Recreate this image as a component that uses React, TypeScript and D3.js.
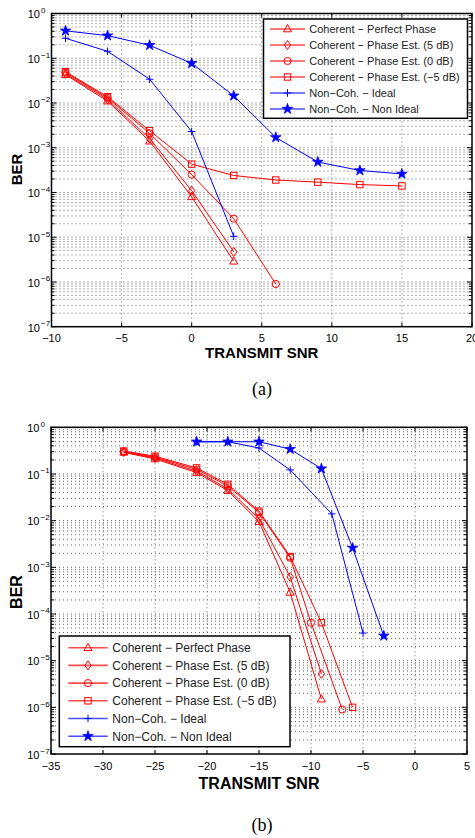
import React from 'react';
import * as d3 from 'd3';

const W = 475;
const H = 838;

// ---------- Data: panel (a) ----------
const topXTicks = [-10, -5, 0, 5, 10, 15, 20];
const topPerfectX = [-9, -6, -3, 0, 3];
const topPerfectY = [0.043, 0.011, 0.0014, 8e-5, 2.9e-6];
const topEst5X = [-9, -6, -3, 0, 3];
const topEst5Y = [0.045, 0.012, 0.0016, 1.1e-4, 4.7e-6];
const topEst0X = [-9, -6, -3, 0, 3, 6];
const topEst0Y = [0.048, 0.013, 0.0021, 2.5e-4, 2.6e-5, 9e-7];
const topEstM5X = [-9, -6, -3, 0, 3, 6, 9, 12, 15];
const topEstM5Y = [0.05, 0.0138, 0.0024, 4.3e-4, 2.4e-4, 1.9e-4, 1.7e-4, 1.5e-4, 1.4e-4];
const topNcIdealX = [-9, -6, -3, 0, 3];
const topNcIdealY = [0.28, 0.143, 0.034, 0.0023, 1.05e-5];
const topNcNonIdealX = [-9, -6, -3, 0, 3, 6, 9, 12, 15];
const topNcNonIdealY = [0.41, 0.32, 0.195, 0.077, 0.0145, 0.0017, 4.8e-4, 3.1e-4, 2.6e-4];

// ---------- Data: panel (b) ----------
const botXTicks = [-35, -30, -25, -20, -15, -10, -5, 0, 5];
const botPerfectX = [-28, -25, -21, -18, -15, -12, -9];
const botPerfectY = [0.29, 0.21, 0.107, 0.044, 0.0095, 2.9e-4, 1.5e-6];
const botEst5X = [-28, -25, -21, -18, -15, -12, -9];
const botEst5Y = [0.295, 0.22, 0.115, 0.048, 0.011, 6.2e-4, 5.2e-6];
const botEst0X = [-28, -25, -21, -18, -15, -12, -10, -7];
const botEst0Y = [0.3, 0.23, 0.125, 0.055, 0.015, 0.0016, 6.5e-5, 9e-7];
const botEstM5X = [-28, -25, -21, -18, -15, -12, -9, -6];
const botEstM5Y = [0.31, 0.24, 0.135, 0.06, 0.016, 0.0017, 6.5e-5, 1e-6];
const botNcIdealX = [-21, -18, -15, -12, -8, -5];
const botNcIdealY = [0.49, 0.49, 0.36, 0.122, 0.014, 3.9e-5];
const botNcNonIdealX = [-21, -18, -15, -12, -9, -6, -3];
const botNcNonIdealY = [0.49, 0.49, 0.49, 0.34, 0.13, 0.0026, 3.4e-5];

const legendLabels = [
  'Coherent − Perfect Phase',
  'Coherent − Phase Est. (5 dB)',
  'Coherent − Phase Est. (0 dB)',
  'Coherent − Phase Est. (−5 dB)',
  'Non−Coh. − Ideal',
  'Non−Coh. − Non Ideal',
];
const seriesMarkers = ['triangle', 'diamond', 'circle', 'square', 'plus', 'star'];
const seriesColors = ['#ff0000', '#ff0000', '#ff0000', '#ff0000', '#0000ff', '#0000ff'];
const yExponents = [0, -1, -2, -3, -4, -5, -6, -7];

const SANS = '"Liberation Sans", Arial, Helvetica, sans-serif';
const SERIF = '"Liberation Serif", "Times New Roman", serif';

function Marker({ kind, cx, cy, color }: { kind: string; cx: number; cy: number; color: string }) {
  const sw = 1;
  switch (kind) {
    case 'triangle':
      return <path d={`M${cx},${cy - 4.5}L${cx + 4},${cy + 2.8}L${cx - 4},${cy + 2.8}Z`} fill="none" stroke={color} strokeWidth={sw} />;
    case 'diamond':
      return <path d={`M${cx},${cy - 4.5}L${cx + 3.2},${cy}L${cx},${cy + 4.5}L${cx - 3.2},${cy}Z`} fill="none" stroke={color} strokeWidth={sw} />;
    case 'circle':
      return <circle cx={cx} cy={cy} r={3.6} fill="none" stroke={color} strokeWidth={sw} />;
    case 'square':
      return <rect x={cx - 3.2} y={cy - 3.2} width={6.4} height={6.4} fill="none" stroke={color} strokeWidth={sw} />;
    case 'plus':
      return <path d={`M${cx - 3.8},${cy}H${cx + 3.8}M${cx},${cy - 3.8}V${cx === cx ? cy + 3.8 : 0}`} fill="none" stroke={color} strokeWidth={sw} />;
    case 'star': {
      const p = d3.symbol(d3.symbolStar, 34)() as string;
      return <path d={p} transform={`translate(${cx},${cy})`} fill={color} stroke={color} strokeWidth={0.8} />;
    }
    default:
      return null;
  }
}

type PanelCfg = {
  xDomain: [number, number];
  xRange: [number, number];
  yRange: [number, number]; // [bottom, top]
  xTicks: number[];
  series: { x: number[]; y: number[] }[];
  legend: { x0: number; y0: number; x1: number; y1: number; rowY0: number; rowStep: number; lineX0: number; lineX1: number; textX: number; fontSize: number };
  xLabelY: number;
  xTickLabelY: number;
  axisLabelY: number;
  berX: number;
  berY: number;
  labelFont: number;
  caption: string;
  captionY: number;
};

function Panel({ cfg }: { cfg: PanelCfg }) {
  const x = d3.scaleLinear().domain(cfg.xDomain).range(cfg.xRange);
  const y = d3.scaleLog().domain([1e-7, 1]).range(cfg.yRange);
  const [xl, xr] = cfg.xRange;
  const [yb, yt] = cfg.yRange;
  const line = d3.line<[number, number]>().x(d => x(d[0])).y(d => y(d[1]));

  const minorVals: number[] = [];
  for (let k = -7; k < 0; k++) for (let m = 2; m <= 9; m++) minorVals.push(m * Math.pow(10, k));

  const gridColor = '#555';
  const lg = cfg.legend;

  return (
    <g>
      {/* grid */}
      {minorVals.map((v, i) => (
        <line key={'mg' + i} x1={xl} x2={xr} y1={y(v)} y2={y(v)} stroke={gridColor} strokeWidth={0.9} strokeDasharray="1,3" />
      ))}
      {yExponents.slice(1, -1).map(e => (
        <line key={'Mg' + e} x1={xl} x2={xr} y1={y(Math.pow(10, e))} y2={y(Math.pow(10, e))} stroke={gridColor} strokeWidth={0.9} strokeDasharray="1,3" />
      ))}
      {cfg.xTicks.slice(1, -1).map(t => (
        <line key={'vg' + t} x1={x(t)} x2={x(t)} y1={yt} y2={yb} stroke={gridColor} strokeWidth={0.9} strokeDasharray="1,3" />
      ))}

      {/* ticks */}
      {minorVals.map((v, i) => (
        <g key={'mt' + i}>
          <line x1={xl} x2={xl + 3} y1={y(v)} y2={y(v)} stroke="#000" strokeWidth={1} />
          <line x1={xr} x2={xr - 3} y1={y(v)} y2={y(v)} stroke="#000" strokeWidth={1} />
        </g>
      ))}
      {yExponents.map(e => (
        <g key={'Mt' + e}>
          <line x1={xl} x2={xl + 5} y1={y(Math.pow(10, e))} y2={y(Math.pow(10, e))} stroke="#000" strokeWidth={1} />
          <line x1={xr} x2={xr - 5} y1={y(Math.pow(10, e))} y2={y(Math.pow(10, e))} stroke="#000" strokeWidth={1} />
        </g>
      ))}
      {cfg.xTicks.map(t => (
        <g key={'xt' + t}>
          <line x1={x(t)} x2={x(t)} y1={yb} y2={yb - 4} stroke="#000" strokeWidth={1} />
          <line x1={x(t)} x2={x(t)} y1={yt} y2={yt + 4} stroke="#000" strokeWidth={1} />
        </g>
      ))}

      {/* series */}
      {cfg.series.map((s, i) => {
        const pts = s.x.map((xv, j) => [xv, s.y[j]] as [number, number]);
        return (
          <g key={'s' + i}>
            <path d={line(pts) as string} fill="none" stroke={seriesColors[i]} strokeWidth={1} />
            {pts.map((p, j) => (
              <Marker key={j} kind={seriesMarkers[i]} cx={x(p[0])} cy={y(p[1])} color={seriesColors[i]} />
            ))}
          </g>
        );
      })}

      {/* box */}
      <rect x={xl} y={yt} width={xr - xl} height={yb - yt} fill="none" stroke="#000" strokeWidth={1.5} />

      {/* y tick labels */}
      {yExponents.map(e => {
        const yy = y(Math.pow(10, e));
        return (
          <g key={'yl' + e} fontFamily={SANS} fill="#000">
            <text x={xl - 11.5} y={yy + 4.8} fontSize={11} textAnchor="end">10</text>
            <text x={xl - 10.5} y={yy - 0.5} fontSize={8}>{e === 0 ? '0' : '−' + Math.abs(e)}</text>
          </g>
        );
      })}

      {/* x tick labels */}
      {cfg.xTicks.map(t => (
        <text key={'xl' + t} x={x(t)} y={cfg.xTickLabelY} fontSize={11} textAnchor="middle" fontFamily={SANS}>
          {t < 0 ? '−' + Math.abs(t) : String(t)}
        </text>
      ))}

      {/* axis labels */}
      <text x={(xl + xr) / 2} y={cfg.axisLabelY} fontSize={cfg.labelFont} fontWeight="bold" textAnchor="middle" fontFamily={SANS}>
        TRANSMIT SNR
      </text>
      <text transform={`translate(${cfg.berX},${cfg.berY}) rotate(-90)`} fontSize={cfg.labelFont} fontWeight="bold" textAnchor="middle" fontFamily={SANS}>
        BER
      </text>

      {/* legend */}
      <rect x={lg.x0} y={lg.y0} width={lg.x1 - lg.x0} height={lg.y1 - lg.y0} fill="#fff" stroke="#000" strokeWidth={1.5} />
      {legendLabels.map((lab, i) => {
        const ry = lg.rowY0 + i * lg.rowStep;
        const mx = (lg.lineX0 + lg.lineX1) / 2;
        return (
          <g key={'lg' + i}>
            <line x1={lg.lineX0} x2={lg.lineX1} y1={ry} y2={ry} stroke={seriesColors[i]} strokeWidth={1.6} strokeOpacity={0.7} />
            <Marker kind={seriesMarkers[i]} cx={mx} cy={ry} color={seriesColors[i]} />
            <text x={lg.textX} y={ry + lg.fontSize * 0.36} fontSize={lg.fontSize} fontFamily={SANS} fill="#222">{lab}</text>
          </g>
        );
      })}

      {/* caption */}
      <text x={262} y={cfg.captionY} fontSize={18} textAnchor="middle" fontFamily={SERIF}>{cfg.caption}</text>
    </g>
  );
}

const topCfg: PanelCfg = {
  xDomain: [-10, 20],
  xRange: [51.5, 472],
  yRange: [326.7, 13.5],
  xTicks: topXTicks,
  series: [
    { x: topPerfectX, y: topPerfectY },
    { x: topEst5X, y: topEst5Y },
    { x: topEst0X, y: topEst0Y },
    { x: topEstM5X, y: topEstM5Y },
    { x: topNcIdealX, y: topNcIdealY },
    { x: topNcNonIdealX, y: topNcNonIdealY },
  ],
  legend: { x0: 263.5, y0: 19, x1: 467.5, y1: 118.3, rowY0: 29, rowStep: 16, lineX0: 270, lineX1: 305, textX: 309.3, fontSize: 11 },
  xLabelY: 0,
  xTickLabelY: 341.5,
  axisLabelY: 357.5,
  berX: 21.5,
  berY: 169.5,
  labelFont: 15,
  caption: '(a)',
  captionY: 395,
};

const botCfg: PanelCfg = {
  xDomain: [-35, 5],
  xRange: [51, 467],
  yRange: [754, 427.3],
  xTicks: botXTicks,
  series: [
    { x: botPerfectX, y: botPerfectY },
    { x: botEst5X, y: botEst5Y },
    { x: botEst0X, y: botEst0Y },
    { x: botEstM5X, y: botEstM5Y },
    { x: botNcIdealX, y: botNcIdealY },
    { x: botNcNonIdealX, y: botNcNonIdealY },
  ],
  legend: { x0: 59.3, y0: 636, x1: 290, y1: 746.7, rowY0: 647.7, rowStep: 17.7, lineX0: 68.3, lineX1: 107.7, textX: 112.3, fontSize: 12 },
  xLabelY: 0,
  xTickLabelY: 769.5,
  axisLabelY: 788.5,
  berX: 22,
  berY: 592,
  labelFont: 16,
  caption: '(b)',
  captionY: 831,
};

export default function App() {
  return (
    <svg width={W} height={H} viewBox={`0 0 ${W} ${H}`} style={{ position: 'absolute', left: 0, top: 0, background: '#fff' }}>
      <rect width={W} height={H} fill="#fff" />
      <Panel cfg={topCfg} />
      <Panel cfg={botCfg} />
    </svg>
  );
}
